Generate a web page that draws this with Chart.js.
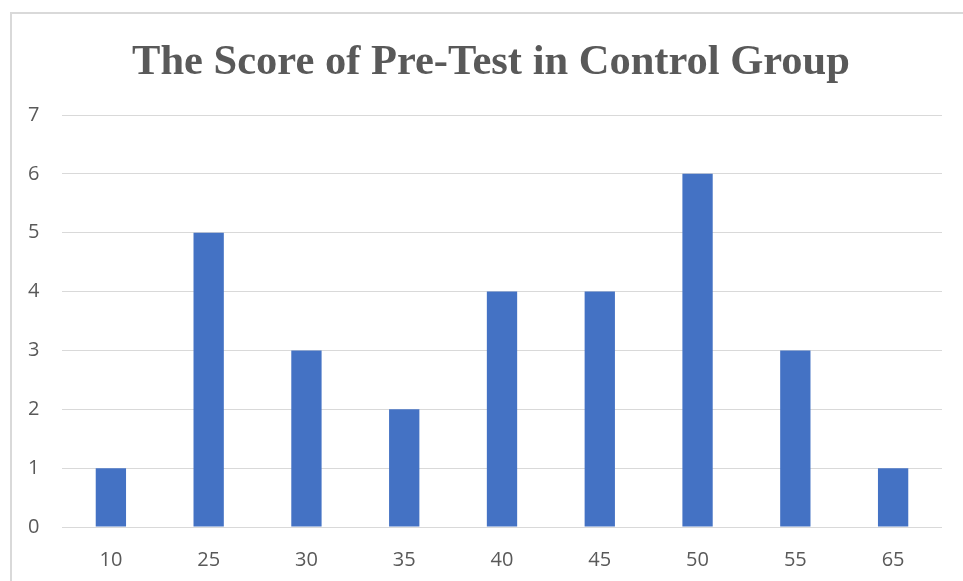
<!DOCTYPE html>
<html>
<head>
<meta charset="utf-8">
<script src="https://cdn.jsdelivr.net/npm/chart.js@4.4.0/dist/chart.umd.min.js"></script>
<style>
  html, body { margin: 0; padding: 0; background: #fff; overflow: hidden; }
  .frame { position: absolute; left: 10px; top: 12px; width: 1000px; height: 1000px; border: 2px solid #d9d9d9; }
  .wrap { position: absolute; left: 0; top: 0; width: 963px; height: 581px; }
</style>
</head>
<body>
<div class="frame"></div>
<div class="wrap"><canvas id="chart" width="963" height="581"></canvas></div>
<script>
// Pre-test scores (control group) – frequency per score
const scores = ['10', '25', '30', '35', '40', '45', '50', '55', '65'];
const counts = [1, 5, 3, 2, 4, 4, 6, 3, 1];
const yTicks = [0, 1, 2, 3, 4, 5, 6, 7];

const textGray = '#595959';
const gridGray = '#d9d9d9';

new Chart(document.getElementById('chart'), {
  type: 'bar',
  data: {
    labels: scores,
    datasets: [{
      data: counts,
      backgroundColor: '#4472C4',
      borderWidth: 0,
      categoryPercentage: 1,
      barPercentage: 0.31,
    }]
  },
  options: {
    responsive: false,
    animation: false,
    // left padding keeps the title centred where the original sits
    layout: { padding: { left: 40, right: 21, top: 0, bottom: 0 } },
    plugins: {
      legend: { display: false },
      tooltip: { enabled: false },
      title: {
        display: true,
        text: 'The Score of Pre-Test in Control Group',
        color: textGray,
        font: { family: '"Liberation Serif", "Times New Roman", serif', size: 42.5, weight: 'bold', lineHeight: 1.2 },
        padding: { top: 38, bottom: 26 },
      }
    },
    scales: {
      x: {
        grid: { display: false },
        border: { display: false },
        ticks: { color: textGray, font: { family: '"Open Sans", sans-serif', size: 20 }, padding: 13, maxRotation: 0 },
        afterFit: s => { s.height = 54; },
      },
      y: {
        min: 0,
        max: 7,
        afterBuildTicks: s => { s.ticks = yTicks.map(v => ({ value: v })); },
        grid: { color: gridGray, lineWidth: 1, drawTicks: false },
        border: { display: false },
        // mirrored so the labels are not clipped to the narrow axis box
        ticks: { color: textGray, font: { family: '"Open Sans", sans-serif', size: 20 }, mirror: true, padding: -34 },
        afterFit: s => { s.width = 22; },
      }
    }
  }
});
</script>
</body>
</html>
